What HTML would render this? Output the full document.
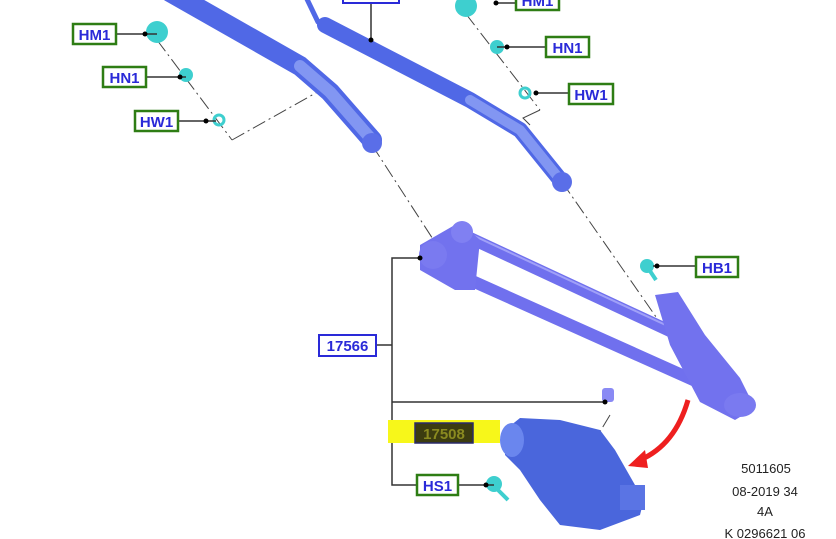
<!DOCTYPE html>
<html><head><style>
html,body{margin:0;padding:0;background:#fff;}
svg{display:block;}
text{font-family:"Liberation Sans",Arial,sans-serif;}
.lb{font-weight:bold;font-size:15px;fill:#2a2ad8;}
</style></head><body>
<svg width="836" height="539" viewBox="0 0 836 539">
<g stroke="#444" stroke-width="1" fill="none" stroke-dasharray="14,4,2,4">
<line x1="157" y1="40" x2="232" y2="140"/>
<line x1="232" y1="140" x2="330" y2="85"/>
<line x1="372" y1="145" x2="440" y2="250"/>
<line x1="466" y1="14" x2="540" y2="110"/>
<line x1="562" y1="182" x2="700" y2="380"/>
<line x1="610" y1="415" x2="595" y2="440"/>
</g>
<polyline points="540,110 523,118 530,125" stroke="#444" fill="none"/>
<g fill="none" stroke-linecap="round" stroke-linejoin="round">
<polyline points="170,-8 300,66 330,92 372,140" stroke="#5068e6" stroke-width="20"/>
<polyline points="300,66 330,92 372,140" stroke="#8296f2" stroke-width="12"/>
<polyline points="305,-5 318,22 330,28" stroke="#5068e6" stroke-width="5"/>
<polyline points="325,25 470,100 520,130 562,182" stroke="#5068e6" stroke-width="16"/>
<polyline points="470,100 520,130 562,182" stroke="#8296f2" stroke-width="10"/>
</g>
<circle cx="372" cy="143" r="10" fill="#5a6ee8"/>
<circle cx="562" cy="182" r="10" fill="#5a6ee8"/>
<g fill="none" stroke-linecap="round">
<line x1="470" y1="238" x2="700" y2="345" stroke="#7070ee" stroke-width="12"/>
<line x1="470" y1="280" x2="720" y2="392" stroke="#7070ee" stroke-width="12"/>
<line x1="470" y1="234" x2="700" y2="341" stroke="#a0a0f8" stroke-width="2"/>
</g>
<path d="M420,245 L460,222 L480,240 L475,290 L455,290 L420,270 Z" fill="#7272ee"/>
<circle cx="433" cy="255" r="14" fill="#7a7af0"/>
<circle cx="462" cy="232" r="11" fill="#8080f2"/>
<path d="M655,295 L678,292 L705,335 L740,378 L755,408 L735,420 L700,402 L670,345 Z" fill="#7272ee"/>
<ellipse cx="740" cy="405" rx="16" ry="12" fill="#7a7af0"/>
<rect x="602" y="388" width="12" height="14" rx="3" fill="#8a8af4"/>
<path d="M505,430 L520,418 L560,420 L600,430 L615,450 L635,485 L645,495 L640,515 L600,530 L560,525 L540,500 L520,470 L505,455 Z" fill="#4a66dc"/>
<ellipse cx="512" cy="440" rx="12" ry="17" fill="#6a86ee"/>
<rect x="620" y="485" width="25" height="25" fill="#5a74e4"/>
<circle cx="157" cy="32" r="11" fill="#3ecfcf"/>
<circle cx="466" cy="6" r="11" fill="#3ecfcf"/>
<circle cx="186" cy="75" r="7" fill="#3ecfcf"/>
<circle cx="497" cy="47" r="7" fill="#3ecfcf"/>
<circle cx="219" cy="120" r="5" fill="none" stroke="#3ecfcf" stroke-width="3"/>
<circle cx="525" cy="93" r="5" fill="none" stroke="#3ecfcf" stroke-width="3"/>
<circle cx="647" cy="266" r="7" fill="#3ecfcf"/><line x1="648" y1="268" x2="656" y2="280" stroke="#3ecfcf" stroke-width="4"/>
<circle cx="494" cy="484" r="8" fill="#3ecfcf"/><line x1="496" y1="488" x2="508" y2="500" stroke="#3ecfcf" stroke-width="4"/>
<path d="M688,400 Q675,445 640,460" stroke="#ee1f1f" stroke-width="5" fill="none"/>
<path d="M628,466 L645,450 L648,468 Z" fill="#ee1f1f"/>
<g stroke="#333" stroke-width="1.5" fill="none">
<line x1="116" y1="34" x2="157" y2="34"/>
<line x1="146" y1="77" x2="186" y2="77"/>
<line x1="178" y1="121" x2="216" y2="121"/>
<line x1="497" y1="3" x2="516" y2="3"/>
<line x1="497" y1="47" x2="545" y2="47"/>
<line x1="535" y1="93" x2="568" y2="93"/>
<line x1="371" y1="3" x2="371" y2="40"/>
<line x1="653" y1="266" x2="695" y2="266"/>
<polyline points="420,258 392,258 392,485 416,485"/>
<line x1="376" y1="345" x2="392" y2="345"/>
<line x1="392" y1="402" x2="605" y2="402"/>
<line x1="473" y1="432" x2="497" y2="432"/>
<line x1="458" y1="485" x2="494" y2="485"/>
</g>
<g fill="#000">
<circle cx="145" cy="34" r="2.5"/><circle cx="180" cy="77" r="2.5"/><circle cx="206" cy="121" r="2.5"/>
<circle cx="496" cy="3" r="2.5"/><circle cx="507" cy="47" r="2.5"/><circle cx="536" cy="93" r="2.5"/>
<circle cx="371" cy="40" r="2.5"/><circle cx="657" cy="266" r="2.5"/><circle cx="420" cy="258" r="2.5"/>
<circle cx="605" cy="402" r="2.5"/><circle cx="497" cy="432" r="2.5"/><circle cx="486" cy="485" r="2.5"/>
</g>
<g fill="#fff" stroke="#2e7d14" stroke-width="2.5">
<rect x="73" y="24" width="43" height="20"/>
<rect x="103" y="67" width="43" height="20"/>
<rect x="135" y="111" width="43" height="20"/>
<rect x="516" y="-8" width="43" height="18"/>
<rect x="546" y="37" width="43" height="20"/>
<rect x="569" y="84" width="44" height="20"/>
<rect x="696" y="257" width="42" height="20"/>
<rect x="417" y="475" width="41" height="20"/>
</g>
<g fill="#fff" stroke="#2a2ad8" stroke-width="2">
<rect x="343" y="-6" width="56" height="9"/>
<rect x="319" y="335" width="57" height="21"/>
</g>
<rect x="388" y="420" width="112" height="23" fill="#f7f71a"/>
<rect x="415" y="423" width="58" height="20" fill="#3c3c10" stroke="#2a2a6a" stroke-width="1.5"/>
<text class="lb" x="94.5" y="40" text-anchor="middle">HM1</text>
<text class="lb" x="124.5" y="83" text-anchor="middle">HN1</text>
<text class="lb" x="156.5" y="127" text-anchor="middle">HW1</text>
<text class="lb" x="537.5" y="6" text-anchor="middle">HM1</text>
<text class="lb" x="567.5" y="53" text-anchor="middle">HN1</text>
<text class="lb" x="591" y="100" text-anchor="middle">HW1</text>
<text class="lb" x="717" y="273" text-anchor="middle">HB1</text>
<text class="lb" x="437.5" y="491" text-anchor="middle">HS1</text>
<text class="lb" x="347.5" y="351" text-anchor="middle">17566</text>
<text class="lb" x="444" y="439" text-anchor="middle" style="fill:#8a8a20">17508</text>
<g font-size="13" fill="#222" text-anchor="middle">
<text x="766" y="473">5011605</text>
<text x="765" y="496">08-2019 34</text>
<text x="765" y="516">4A</text>
<text x="765" y="538">K 0296621 06</text>
</g>
</svg>
</body></html>
